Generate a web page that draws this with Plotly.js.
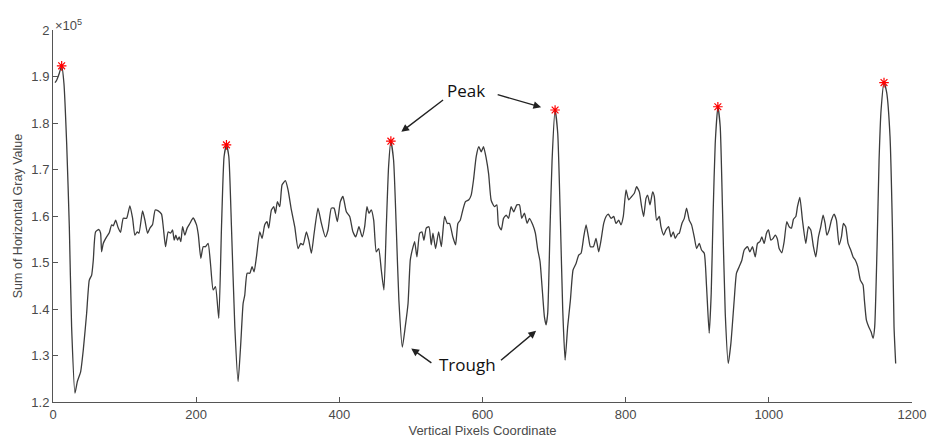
<!DOCTYPE html>
<html>
<head>
<meta charset="utf-8">
<script src="https://cdn.plot.ly/plotly-3.0.1.min.js"></script>
<style>html,body{margin:0;padding:0;background:#fff;}#chart{width:927px;height:443px;}</style>
</head>
<body>
<div id="chart"></div>
<script>
// Vertical pixel coordinate
const pixelCoord = [2.8,5.1,8.8,12.1,15.3,19.1,22.8,26,30.7,34,38.6,42.3,47,50.7,54,56.3,59.5,64.2,66.5,67.9,70.2,74.9,78.6,81.9,84.2,87.5,91.2,94.4,98.2,102.8,107.4,111.2,114.4,117.7,120.1,125.1,128.4,132.1,135.4,139.1,142.8,147,151.6,154,157.2,160.9,164.2,167,169.3,171.6,174,176.3,178.6,181,184.2,187.4,191.2,195.8,200.5,203,206.5,
209.8,213,216.7,220,223.7,227,231.6,235.4,239,242.3,245.6,249.3,254,258.6,262.3,265.6,267.9,271.2,275,278.1,280.9,284.2,288.8,292.1,295.8,299,301.4,305.1,308.4,310.7,313.5,316.8,320,324.7,328.4,333,337.7,342.3,346.1,349.4,354,357.3,361,364.8,370.2,375,380.5,384.2,388.8,392.6,397.2,401.4,405.1,
409.8,414.5,419,423,427.4,432,435.4,438.6,441.4,444.6,448,451.6,455,458.6,462.3,465.6,468.8,472,475.8,479.5,483.2,488,492.1,496,499.1,501.9,505.2,508.4,512.2,515.4,518.2,521.4,525.2,528.4,530.8,534.5,538.7,542.5,547,550.8,554,558.6,562.4,565.6,568.9,572.5,576.2,580.9,584.2,587.4,591.2,594.9,598.2,601.4,605.2,608.6,
612.1,616.7,620,622.3,626.2,629.4,633.1,636.4,640,643.7,647.9,651.6,654.8,658.6,662.3,665.6,670.2,673.9,677.2,680.4,683.2,686.5,688.8,691.1,694.4,697.2,701.4,705.1,708.8,712.1,715.4,719,722.8,726.5,730.7,734.4,737.7,741.4,744.7,748,750.7,754.9,758.6,762.3,765.6,769.3,772.6,775.8,779.6,783.3,786.5,790.3,793.5,796.7,800.5,804.2,808.4,
812.1,815.3,819.1,822.3,825.1,828.4,830.7,834,837.7,840,843.2,847,849.3,853,856.3,860,863.3,866.5,869.3,872.6,874.9,878.6,881.9,885.1,888.8,892.1,895.8,899.1,902.8,906,909.8,913,916.7,919.5,922.3,925.1,928.8,932.1,935.3,939.1,943.3,947,951.6,954.8,958.6,962.3,965.6,970.2,973.5,977.2,981,984.2,987.5,990.2,993.5,996.7,999.5,1002.8,1006,1009,
1012,1014.4,1018.1,1021.4,1025.1,1028.4,1031.6,1034.4,1037.7,1040,1043.3,1047,1051.6,1055.3,1058.6,1062.3,1065.6,1069.3,1072.6,1075.8,1078.6,1081,1084.2,1087.4,1091.2,1094.4,1098.1,1101.4,1104.2,1107.4,1110.7,1114.4,1117.7,1120.9,1124.2,1127.9,1131.6,1133.5,1136.3,1139.5,1142.8,1145.6,1147.9,1151.2,1154,1156.8,1160.9,1164.6,1169.3,1172.6,1174.9,1177.2];

// Sum of horizontal gray value (x 10^5)
const graySum = [1.887,1.892,1.907,1.923,1.885,1.756,1.577,1.362,1.219,1.244,1.265,1.312,1.391,1.462,1.473,1.505,1.566,1.571,1.563,1.523,1.541,1.555,1.564,1.581,1.579,1.591,1.574,1.565,1.595,1.595,1.622,1.595,1.559,1.566,1.563,1.611,1.591,1.563,1.574,1.582,1.613,1.611,1.604,1.577,1.534,1.566,1.563,1.570,1.548,1.559,1.548,1.555,1.545,1.577,1.559,1.574,1.584,1.596,1.581,1.560,1.509,
1.534,1.534,1.541,1.498,1.441,1.448,1.380,1.577,1.728,1.753,1.728,1.577,1.362,1.244,1.326,1.412,1.430,1.477,1.477,1.491,1.480,1.512,1.566,1.552,1.581,1.588,1.574,1.613,1.620,1.606,1.631,1.620,1.667,1.676,1.656,1.613,1.577,1.530,1.541,1.538,1.566,1.548,1.520,1.563,1.617,1.584,1.555,1.570,1.617,1.617,1.588,1.631,1.642,
1.609,1.599,1.566,1.555,1.577,1.555,1.577,1.620,1.606,1.613,1.591,1.523,1.530,1.484,1.441,1.577,1.706,1.761,1.720,1.577,1.419,1.318,1.362,1.412,1.505,1.527,1.545,1.512,1.563,1.566,1.548,1.574,1.577,1.538,1.563,1.530,1.566,1.534,1.599,1.584,1.584,1.555,1.538,1.584,1.591,1.613,1.631,1.635,1.645,1.677,1.728,1.749,1.738,1.749,1.724,1.690,
1.634,1.620,1.624,1.581,1.570,1.595,1.602,1.595,1.620,1.609,1.624,1.624,1.595,1.606,1.584,1.595,1.581,1.563,1.527,1.502,1.448,1.383,1.366,1.391,1.577,1.720,1.828,1.778,1.591,1.398,1.290,1.362,1.419,1.484,1.498,1.516,1.520,1.555,1.581,1.555,1.534,1.534,1.552,1.523,1.548,1.584,1.599,1.604,1.595,1.599,1.584,1.591,1.581,1.599,1.656,1.635,1.642,
1.649,1.663,1.652,1.620,1.599,1.638,1.645,1.624,1.652,1.642,1.591,1.599,1.577,1.559,1.570,1.577,1.555,1.566,1.552,1.561,1.563,1.584,1.595,1.617,1.591,1.581,1.555,1.530,1.541,1.527,1.520,1.448,1.348,1.434,1.613,1.756,1.835,1.792,1.613,1.391,1.283,1.326,1.419,1.477,1.491,1.505,1.527,1.534,1.523,1.534,1.512,1.541,1.545,1.555,1.541,1.563,1.570,1.548,1.552,1.559,
1.550,1.530,1.521,1.545,1.588,1.577,1.574,1.593,1.599,1.620,1.640,1.591,1.541,1.577,1.570,1.534,1.512,1.555,1.577,1.602,1.584,1.559,1.570,1.591,1.604,1.591,1.538,1.555,1.584,1.577,1.541,1.527,1.512,1.505,1.491,1.462,1.452,1.419,1.376,1.362,1.351,1.337,1.362,1.534,1.720,1.828,1.887,1.866,1.771,1.577,1.362,1.283];

// Detected peaks
const peakX = [12.1, 242.3, 472, 701.4, 928.8, 1160.9];
const peakY = [1.923, 1.753, 1.761, 1.828, 1.835, 1.887];

const xTicks = [0, 200, 400, 600, 800, 1000, 1200];
const xTickText = ['0', '200', '400', '600', '800', '1000', '1200'];
const yTicks = [1.2, 1.3, 1.4, 1.5, 1.6, 1.7, 1.8, 1.9, 2];
const yTickText = ['1.2', '1.3', '1.4', '1.5', '1.6', '1.7', '1.8', '1.9', '2'];

const axisColor = '#555555';
const tickFont = {family: 'Liberation Sans, Arial, sans-serif', size: 13, color: '#4a4a4a'};

const traces = [
  {
    x: pixelCoord, y: graySum, type: 'scatter', mode: 'lines',
    line: {color: '#3c3c3c', width: 1.3, shape: 'spline', smoothing: 0.5}, hoverinfo: 'skip'
  },
  {
    x: peakX, y: peakY, type: 'scatter', mode: 'markers',
    marker: {symbol: 'asterisk-open', size: 8, color: '#ff0000', line: {color: '#ff0000', width: 1.2}},
    hoverinfo: 'skip'
  }
];

const annFont = {family: 'Open Sans, Noto Sans, sans-serif', size: 17, color: '#111111'};
const arrow = {showarrow: true, arrowhead: 2, arrowsize: 1.1, arrowwidth: 1.4, arrowcolor: '#222222',
  xref: 'x', yref: 'y', axref: 'x', ayref: 'y', text: ''};

const layout = {
  width: 927, height: 443,
  margin: {l: 53, r: 15, t: 30, b: 41},
  paper_bgcolor: '#ffffff', plot_bgcolor: '#ffffff',
  showlegend: false,
  xaxis: {
    range: [0, 1200], tickmode: 'array', tickvals: xTicks, ticktext: xTickText, ticks: 'inside', ticklen: 5, tickwidth: 1,
    tickcolor: axisColor, showline: true, linecolor: axisColor, linewidth: 1,
    showgrid: false, zeroline: false, mirror: false, tickfont: tickFont,
    ticklabeloverflow: 'allow', automargin: false,
    title: {text: 'Vertical Pixels Coordinate', font: {family: 'Liberation Sans, Arial, sans-serif', size: 13, color: '#4a4a4a'}, standoff: 5}
  },
  yaxis: {
    range: [1.2, 2.0001], tickvals: yTicks, ticktext: yTickText, ticks: 'inside', ticklen: 5, tickwidth: 1,
    tickcolor: axisColor, showline: true, linecolor: axisColor, linewidth: 1,
    showgrid: false, zeroline: false, mirror: false, tickfont: tickFont, automargin: false,
    title: {text: 'Sum of Horizontal Gray Value', font: {family: 'Liberation Sans, Arial, sans-serif', size: 12.5, color: '#4a4a4a'}, standoff: 5}
  },
  annotations: [
    {xref: 'paper', yref: 'paper', x: 0, y: 1, xanchor: 'left', yanchor: 'bottom', showarrow: false,
     text: '×10<sup>5</sup>', font: {family: 'Liberation Sans, Arial, sans-serif', size: 13, color: '#4a4a4a'}, yshift: -5},
    {xref: 'x', yref: 'y', x: 577.3, y: 1.871, text: 'Peak', showarrow: false, font: annFont},
    {xref: 'x', yref: 'y', x: 579.5, y: 1.281, text: 'Trough', showarrow: false, font: annFont},
    Object.assign({}, arrow, {x: 486.6, y: 1.781, ax: 547, ay: 1.852}),
    Object.assign({}, arrow, {x: 681.9, y: 1.834, ax: 619.1, ay: 1.862}),
    Object.assign({}, arrow, {x: 500.5, y: 1.315, ax: 530.7, ay: 1.282}),
    Object.assign({}, arrow, {x: 674.9, y: 1.353, ax: 623.7, ay: 1.287})
  ]
};

Plotly.newPlot('chart', traces, layout, {staticPlot: true, displayModeBar: false});
</script>
</body>
</html>
